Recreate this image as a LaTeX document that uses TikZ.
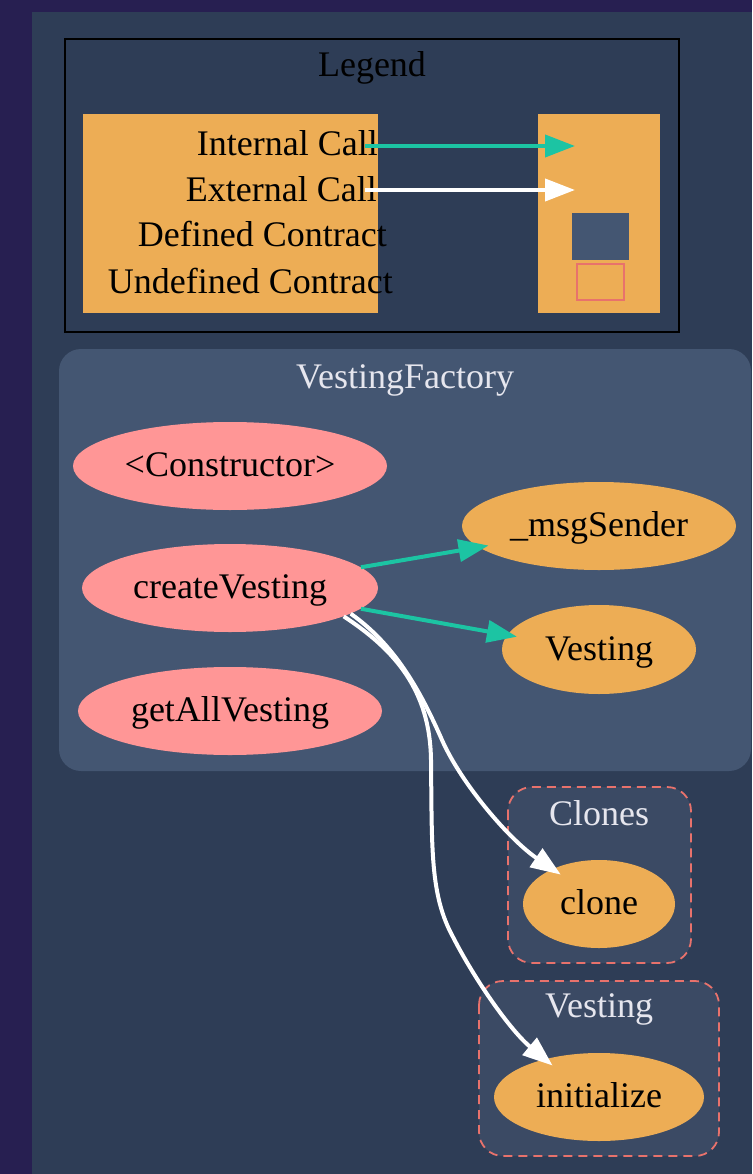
\documentclass[tikz,border=0pt]{standalone}
\usepackage{fontspec}
\setmainfont{Liberation Serif}
\usetikzlibrary{positioning,arrows.meta,shapes.geometric}
\definecolor{outerbg}{HTML}{271F51}
\definecolor{innerbg}{HTML}{2E3D56}
\definecolor{clusterbg}{HTML}{445672}
\definecolor{subbg}{HTML}{3B4A64}
\definecolor{fnorange}{HTML}{EDAD55}
\definecolor{fnpink}{HTML}{FF9696}
\definecolor{callteal}{HTML}{1CC4A3}
\definecolor{dashred}{HTML}{E8726C}
\definecolor{labelgrey}{HTML}{E6E6EE}

\begin{document}
\begin{tikzpicture}[x=1pt,y=-1pt,
    font=\fontsize{36}{42}\selectfont,
    fn/.style={ellipse,minimum height=88pt,inner sep=0pt,text height=26pt,text depth=5pt},
    pub/.style={fn,fill=fnpink},
    ext/.style={fn,fill=fnorange},
    lbl/.style={anchor=base,inner sep=0pt},
    intcall/.style={draw=callteal,line width=4pt,-{Triangle[length=30pt,width=22pt]},shorten >=-10pt},
    extcall/.style={draw=white,line width=4pt,-{Triangle[length=30pt,width=22pt]},shorten >=-10pt},
    subcluster/.style={draw=dashred,line width=1.8pt,dash pattern=on 9pt off 6pt,fill=subbg,rounded corners=24pt}]
    \useasboundingbox (0,0) rectangle (752,1174);
    \fill[outerbg] (0,0) rectangle (752,1174);
    \fill[innerbg] (32,12) rectangle (752,1174);

    % legend
    \draw[black,line width=2pt] (65,39) rectangle (679,332);
    \node[lbl] (legendlbl) at (372,77) {Legend};
    \fill[fnorange] (83,114) rectangle (378,313);
    \fill[fnorange] (538,114) rectangle (660,313);
    \node[lbl,anchor=base east] (intlbl) at (378,156) {Internal Call};
    \node[lbl,anchor=base east] (extlbl) at (377,202) {External Call};
    \node[lbl,anchor=base east] (deflbl) at (387,247) {Defined Contract};
    \node[lbl,anchor=base east] (undeflbl) at (393,293) {Undefined Contract};
    \coordinate (intA) at (365,146);
    \coordinate (intB) at (575,146);
    \coordinate (extA) at (365,190);
    \coordinate (extB) at (575,190);
    \draw[intcall,shorten >=0pt] (intA) -- (intB);
    \draw[extcall,shorten >=0pt] (extA) -- (extB);
    \node[fill=clusterbg,minimum width=57pt,minimum height=46pt,inner sep=0pt] (defbox) at (600,236.5) {};
    \node[draw=dashred,line width=2pt,minimum width=47pt,minimum height=36pt,inner sep=0pt] (undefbox) at (600,281.5) {};

    % VestingFactory
    \fill[clusterbg,rounded corners=22pt] (59,349) rectangle (751,771);
    \node[lbl,text=labelgrey] (factorylbl) at (405,388) {VestingFactory};
    \node[pub,minimum width=314pt] (cons) at (230,466) {<Constructor>};
    \node[pub,minimum width=296pt] (cv) at (230,588) {createVesting};
    \node[pub,minimum width=304pt] (gav) at (230,711) {getAllVesting};
    \node[ext,minimum width=274pt] (ms) at (599,526) {\_msgSender};
    \node[ext,minimum width=194pt,minimum height=89pt] (vest) at (599,649.5) {Vesting};

    % Clones
    \draw[subcluster] (508,787) rectangle (691,963);
    \node[lbl,text=labelgrey] (cloneslbl) at (599,825) {Clones};
    \node[ext,minimum width=152pt] (clone) at (599,904) {clone};

    % Vesting
    \draw[subcluster] (479,981) rectangle (719,1156);
    \node[lbl,text=labelgrey] (vestlbl) at (599,1017) {Vesting};
    \node[ext,minimum width=210pt] (init) at (599,1097) {initialize};

    % calls
    \draw[intcall] (cv.9) -- (ms.190);
    \draw[intcall] (cv.-9) -- (vest.171);
    \draw[extcall] (cv.-12) .. controls (395,645) and (420,690) .. (442,740)
        .. controls (462,785) and (510,840) .. (clone.143);
    \draw[extcall] (cv.-14) .. controls (395,650) and (430,690) .. (431,760)
        .. controls (432,850) and (430,895) .. (453,937)
        .. controls (475,980) and (510,1030) .. (init.145);
\end{tikzpicture}
\end{document}
